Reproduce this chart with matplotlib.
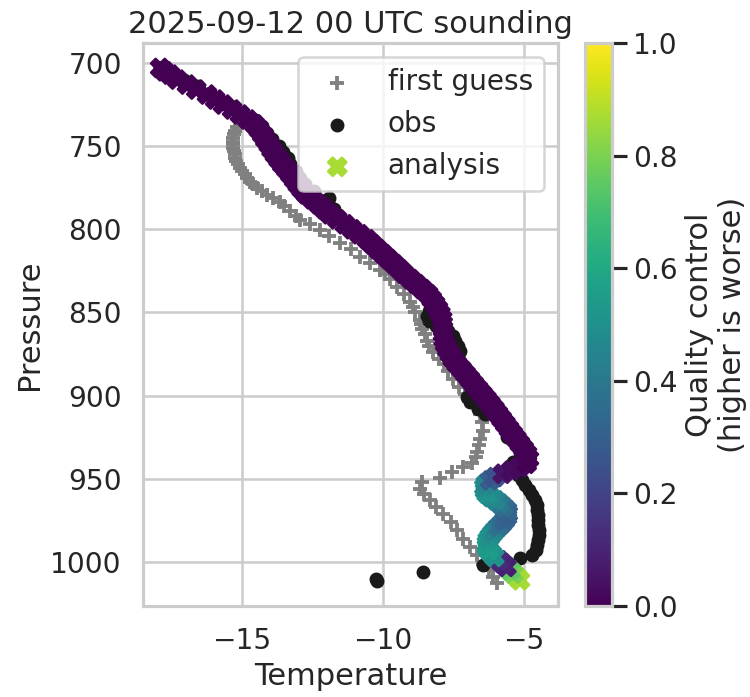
import matplotlib
matplotlib.use("Agg")
import matplotlib.pyplot as plt
import seaborn as sns
import numpy as np

# ---- data (surface first) ----
an_p = [1011, 1009, 1007, 1005, 1003, 1001, 999, 997, 995, 993, 991, 989, 987, 985, 983, 981,
        979, 977, 975, 973, 971, 969, 967, 965, 963, 961, 959, 957, 955, 953, 951, 949, 947, 945,
        943, 941, 938, 935, 932, 929, 926, 923, 920, 917, 914, 911, 908, 905, 902, 899, 896, 893,
        890, 887, 884, 881, 878, 875, 872, 869, 866, 863, 860, 857, 854, 851, 848, 845, 842, 839,
        836, 833, 830, 827, 824, 821, 818, 815, 812, 809, 806, 803, 800, 797, 794, 791, 788, 785,
        782, 779, 776, 773, 770, 767, 764, 761, 758, 755, 752, 749, 746, 743, 740, 737, 734, 731,
        728, 725, 722, 719, 716, 713, 710, 707, 705, 703]
an_t = [-5.14, -5.25, -5.38, -5.50, -5.62, -5.75, -5.88, -6.05, -6.15, -6.25, -6.31, -6.31, -6.28,
        -6.21, -6.12, -6.02, -5.90, -5.78, -5.68, -5.60, -5.57, -5.60, -5.72, -5.85, -6.00, -6.18,
        -6.32, -6.38, -6.40, -6.35, -6.20, -6.02, -5.75, -5.45, -5.15, -4.90, -4.82, -4.89, -5.01,
        -5.14, -5.27, -5.40, -5.53, -5.66, -5.79, -5.92, -6.05, -6.19, -6.33, -6.48, -6.63, -6.78,
        -6.92, -7.07, -7.22, -7.38, -7.52, -7.62, -7.72, -7.80, -7.85, -7.87, -7.87, -7.88, -7.90,
        -7.96, -8.05, -8.15, -8.27, -8.40, -8.60, -8.81, -9.02, -9.23, -9.41, -9.60, -9.80, -9.99,
        -10.19, -10.38, -10.57, -10.83, -11.09, -11.35, -11.62, -11.88, -12.08, -12.28, -12.50,
        -12.72, -12.88, -13.02, -13.15, -13.28, -13.42, -13.57, -13.70, -13.83, -13.95, -14.05,
        -14.17, -14.28, -14.40, -14.55, -14.80, -15.07, -15.35, -15.67, -15.95, -16.24, -16.62,
        -16.95, -17.30, -17.55, -17.75, -17.90]
an_qc = [0.87, 0.86, 0.80, 0.75, 0.08, 0.10, 0.12, 0.50, 0.50, 0.55, 0.55, 0.55, 0.52, 0.50,
         0.48, 0.45, 0.38, 0.35, 0.32, 0.30, 0.30, 0.32, 0.35, 0.40, 0.45, 0.48, 0.50, 0.50,
         0.48, 0.45, 0.30, 0.25, 0.05, 0.03, 0.02, 0.0] + [0.0] * 80

obs_p = [1011.2, 1010.0, 1006.1, 1001.9, 997.7, 995.9, 993, 990, 987, 984, 981, 978, 975, 972,
         969, 966, 963, 960, 957, 954, 951, 948, 945, 942, 940, 937, 934, 931, 928, 925, 922, 919,
         916, 913, 911, 908, 904, 901, 897, 894, 891, 888, 885, 882, 879, 876, 873, 870, 867, 864,
         861, 858, 855, 852, 849, 846, 843, 840, 836, 832, 828, 824, 820, 816, 812, 808, 804, 800,
         796, 792, 788, 784, 781, 777, 773, 769, 765, 761, 757, 753.5, 750, 746, 742, 738, 734, 730,
         726, 722, 718, 714, 710, 706, 703]
obs_t = [-10.22, -10.25, -8.58, -6.45, -5.14, -4.70, -4.58, -4.52, -4.50, -4.48, -4.48, -4.49,
         -4.50, -4.50, -4.52, -4.55, -4.62, -4.72, -4.82, -4.95, -5.08, -5.20, -5.32, -5.40, -5.40,
         -5.15, -5.10, -5.20, -5.35, -5.60, -5.55, -5.65, -5.78, -6.00, -6.38, -6.63, -6.91, -7.02,
         -6.75, -6.90, -7.05, -7.15, -7.30, -7.40, -7.45, -7.35, -7.27, -7.35, -7.45, -7.52, -7.70,
         -8.10, -8.38, -8.42, -8.35, -8.30, -8.35, -8.45, -8.55, -8.80, -9.05, -9.35, -9.65, -9.90,
         -10.15, -10.40, -10.65, -10.95, -11.25, -11.55, -11.75, -11.95, -11.90, -12.45, -12.75,
         -12.95, -13.10, -13.30, -13.35, -13.55, -13.70, -13.95, -14.10, -14.30, -14.55, -15.00,
         -15.40, -15.80, -16.15, -16.55, -17.05, -17.45, -17.80]

fg_p = [1012.7, 1009, 1005, 1001, 996, 991, 986, 981, 976, 971, 967, 963, 959, 956, 952, 949.5,
        946, 943, 940.5, 937, 934, 930, 926, 921, 916, 911, 907, 903, 899, 895, 890, 885, 881,
        878, 874, 870, 867, 863, 860, 857, 854.5, 850, 847, 844, 839, 835, 830, 827, 824.5, 820,
        816.7, 812, 808, 804, 800.4, 797, 794.4, 792, 789, 786, 783.6, 781, 779.4, 777, 775, 773,
        771.6, 769, 767, 765, 763, 761, 759, 757, 755, 753, 751, 749, 747.5, 745, 743, 741, 738.5,
        735, 731, 727, 723, 719, 715, 711, 707, 703]
fg_t = [-5.96, -6.10, -6.25, -6.45, -6.68, -6.91, -7.15, -7.38, -7.60, -7.87, -8.10, -8.33, -8.55,
        -8.69, -8.62, -7.98, -7.55, -7.16, -6.85, -6.70, -6.67, -6.60, -6.56, -6.45, -6.48, -6.56,
        -6.75, -6.95, -7.10, -7.30, -7.50, -7.70, -7.85, -8.00, -8.23, -8.35, -8.44, -8.52, -8.60,
        -8.66, -8.69, -8.85, -8.95, -9.04, -9.25, -9.50, -9.75, -9.92, -10.11, -10.45, -10.82,
        -11.15, -11.52, -11.90, -12.23, -12.60, -12.94, -13.10, -13.30, -13.50, -13.65, -13.90,
        -14.11, -14.30, -14.45, -14.60, -14.72, -14.82, -14.90, -15.00, -15.07, -15.14, -15.20,
        -15.23, -15.25, -15.28, -15.30, -15.32, -15.32, -15.30, -15.28, -15.24, -15.18, -15.05,
        -15.10, -15.45, -15.80, -16.20, -16.70, -17.10, -17.50, -17.90]

x_ticks = [-15, -10, -5]
y_ticks = [700, 750, 800, 850, 900, 950, 1000]

sns.set_theme(style="whitegrid", context="talk")

DPI = 122
fig = plt.figure(figsize=(750 / DPI, 697 / DPI), dpi=DPI)
ax = fig.add_axes([143 / 750, 1 - 606 / 697, (558 - 143) / 750, (606 - 43) / 697])
cax = fig.add_axes([585 / 750, 1 - 606 / 697, 27 / 750, (606 - 43) / 697])

ax.scatter(fg_t, fg_p, marker="+", color="0.5", s=70, label="first guess")
ax.scatter(obs_t, obs_p, marker="o", color="k", s=45, label="obs")
sc = ax.scatter(an_t, an_p, marker="X", c=an_qc, cmap="viridis", vmin=0, vmax=1, s=115,
                label="analysis")

ax.set_xlim(-18.51, -3.79)
ax.set_ylim(1026.5, 688.0)
ax.set_xticks(x_ticks)
ax.set_yticks(y_ticks)
ax.set_xlabel("Temperature")
ax.set_ylabel("Pressure")
ax.set_title("2025-09-12 00 UTC sounding")
ax.legend(loc="upper right")

cb = fig.colorbar(sc, cax=cax)
cb.set_label("Quality control\n(higher is worse)")

fig.savefig("out.png", dpi=DPI)
